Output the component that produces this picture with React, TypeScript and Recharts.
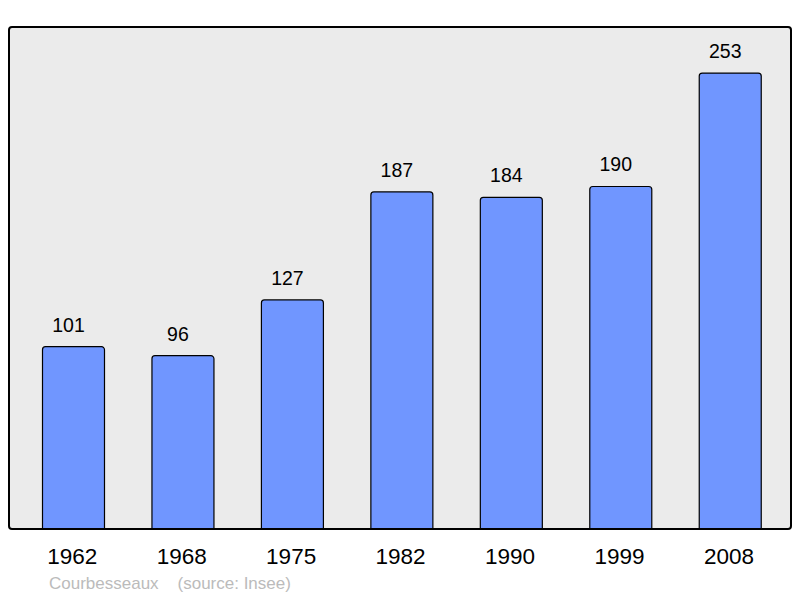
import React from 'react';
import { BarChart, Bar, XAxis, YAxis, LabelList } from 'recharts';

const years = ['1962', '1968', '1975', '1982', '1990', '1999', '2008'];
const population = [101, 96, 127, 187, 184, 190, 253];
const townName = 'Courbesseaux';
const sourceText = '(source: Insee)';

const data = years.map((y, i) => ({ year: y, pop: population[i] }));

const FONT = '"Liberation Sans", Arial, sans-serif';

export default function App() {
  return (
    <div style={{ position: 'absolute', left: 0, top: 0, width: 800, height: 598, fontFamily: FONT }}>
      <div
        style={{
          position: 'absolute',
          left: 8,
          top: 26,
          width: 784,
          height: 503.5,
          boxSizing: 'border-box',
          border: '2px solid #000',
          borderRadius: 4,
          background: '#ebebeb',
        }}
      />
      <div style={{ position: 'absolute', left: 0, top: 0 }}>
        <BarChart
          width={800}
          height={598}
          data={data}
          margin={{ top: 27, right: 15.3, bottom: 0, left: 18.5 }}
        >
          <XAxis
            dataKey="year"
            axisLine={false}
            tickLine={false}
            height={69.5}
            tickMargin={13.8}
            interval={0}
            tick={{ fill: '#000', fontSize: 22.5, fontFamily: FONT, dx: -1 }}
          />
          <YAxis hide domain={[0, 278.6]} />
          <Bar
            dataKey="pop"
            fill="#7096ff"
            stroke="#000"
            strokeWidth={1.2}
            barSize={62}
            radius={[3, 3, 0, 0]}
            isAnimationActive={false}
          >
            <LabelList
              dataKey="pop"
              position="top"
              offset={15}
              dx={-5}
              style={{ fill: '#000', fontSize: 19.5, fontFamily: FONT }}
            />
          </Bar>
        </BarChart>
      </div>
      <div
        style={{
          position: 'absolute',
          left: 49,
          top: 575,
          fontSize: 17,
          color: '#bbbbbb',
          whiteSpace: 'pre',
          lineHeight: '18px',
        }}
      >
        {townName + '    ' + sourceText}
      </div>
    </div>
  );
}
